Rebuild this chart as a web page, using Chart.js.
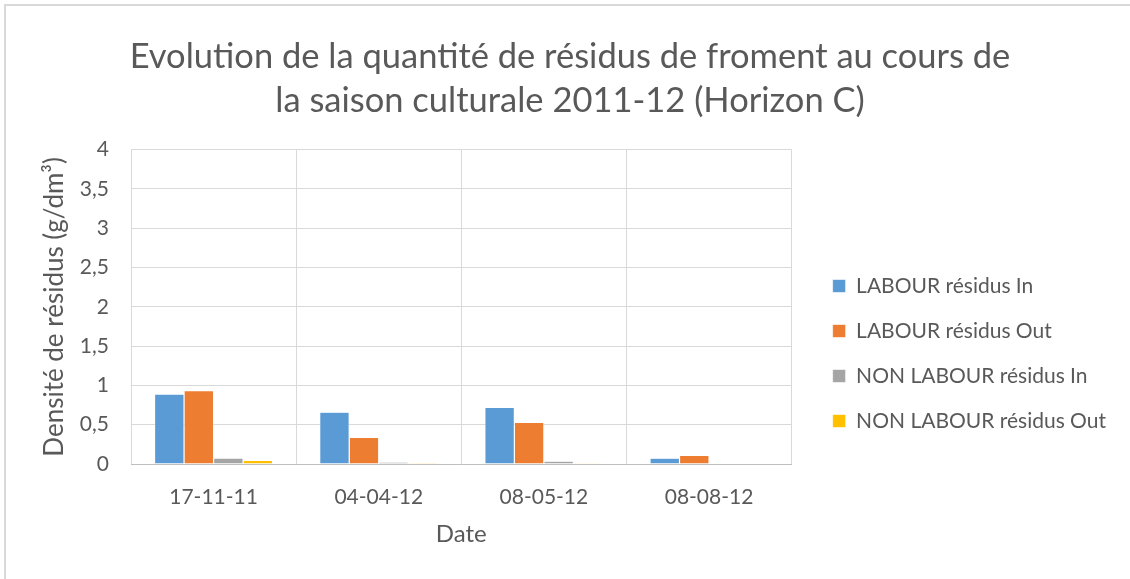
<!DOCTYPE html>
<html>
<head>
<meta charset="utf-8">
<script src="https://cdn.jsdelivr.net/npm/chart.js@4/dist/chart.umd.min.js"></script>
<style>
  html, body { margin: 0; padding: 0; background: #fff; }
  #frame {
    position: absolute; left: 4px; top: 4px; width: 1200px; height: 640px;
    border-top: 2px solid #d9d9d9; border-left: 2px solid #d9d9d9;
  }
  #myChart { position: absolute; left: 0; top: 0; }
</style>
</head>
<body>
<div id="frame"></div>
<canvas id="myChart" width="1130" height="579"></canvas>
<script>
// dates d'échantillonnage
const dates = ["17-11-11", "04-04-12", "08-05-12", "08-08-12"];

// densité de résidus (g/dm³)
const labourIn = [0.89, 0.66, 0.72, 0.073];
const labourOut = [0.935, 0.34, 0.53, 0.11];
const nonLabourIn = [0.075, 0.025, 0.035, 0.005];
const nonLabourOut = [0.047, 0.012, 0.01, 0.008];

const seriesNames = [
  "LABOUR résidus In",
  "LABOUR résidus Out",
  "NON LABOUR résidus In",
  "NON LABOUR résidus Out",
];

const yTickLabels = ["0", "0,5", "1", "1,5", "2", "2,5", "3", "3,5", "4"];

const titre = [
  "Evolution de la quantité de résidus de froment au cours de",
  "la saison culturale 2011-12 (Horizon C)",
];

document.addEventListener("DOMContentLoaded", function () {
  const ctx = document.getElementById("myChart").getContext("2d");
  const gris = "#595959";
  const police = "Lato, 'Open Sans', sans-serif";

  Chart.defaults.font.family = police;
  Chart.defaults.color = gris;

  const couleurs = ["#5B9BD5", "#ED7D31", "#A5A5A5", "#FFC000"];
  const valeurs = [labourIn, labourOut, nonLabourIn, nonLabourOut];

  const datasets = seriesNames.map(function (nom, i) {
    return {
      label: nom,
      data: valeurs[i],
      backgroundColor: couleurs[i],
      borderColor: "#ffffff",
      borderWidth: 0.6,
      barPercentage: 1,
      categoryPercentage: 0.715,
    };
  });

  new Chart(ctx, {
    type: "bar",
    data: { labels: dates, datasets: datasets },
    options: {
      responsive: false,
      animation: false,
      layout: { padding: { top: 0, left: 24, right: 14, bottom: 0 } },
      scales: {
        x: {
          grid: { color: "#d9d9d9", drawTicks: false, offset: true },
          border: { color: "#bfbfbf" },
          ticks: { padding: 21, font: { size: 21 }, color: gris },
          title: {
            display: true,
            text: "Date",
            font: { size: 24 },
            padding: { top: 0, bottom: 30 },
          },
          afterFit: function (s) { s.height = 115; },
        },
        y: {
          min: 0,
          max: 4,
          grid: { color: "#d9d9d9", drawTicks: false },
          border: { display: false },
          ticks: {
            stepSize: 0.5,
            padding: 22,
            font: { size: 21 },
            color: gris,
            callback: function (v, i) { return yTickLabels[i]; },
          },
          title: {
            display: true,
            text: "Densité de résidus (g/dm³)",
            font: { size: 26 },
            padding: { top: 15, bottom: 0 },
          },
          afterFit: function (s) { s.width = 107; },
        },
        ecart: {
          position: "right",
          grid: { display: false },
          border: { display: false },
          ticks: { display: false },
          afterFit: function (s) { s.width = 17; },
        },
      },
      plugins: {
        title: {
          display: true,
          text: titre,
          color: gris,
          font: { size: 34.5, weight: "normal", lineHeight: 1.3 },
          padding: { top: 34, bottom: 26 },
        },
        legend: {
          position: "right",
          align: "center",
          maxWidth: 400,
          title: {
            display: true,
            text: "",
            font: { size: 10 },
            padding: { top: 116, bottom: 0 },
          },
          labels: {
            boxWidth: 13,
            boxHeight: 13,
            padding: 24,
            font: { size: 21 },
            color: gris,
          },
        },
        tooltip: { enabled: false },
      },
    },
  });
});
</script>
</body>
</html>
